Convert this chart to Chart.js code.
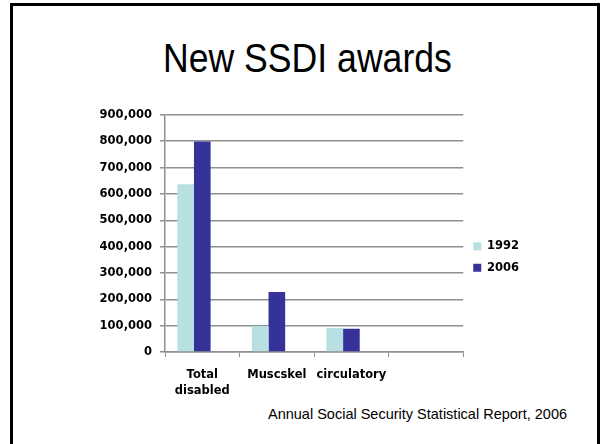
<!DOCTYPE html>
<html>
<head>
<meta charset="utf-8">
<script src="https://cdn.jsdelivr.net/npm/chart.js@4"></script>
<style>
  html, body { margin: 0; padding: 0; background: #fff; }
  #slide { position: relative; width: 600px; height: 444px; overflow: hidden; }
  #frame { position: absolute; left: 10px; top: 3px; width: 584px; height: 460px;
           border: 3px solid #000; border-bottom: none; }
  #title { position: absolute; left: 163px; top: 36px; white-space: nowrap;
           transform: scaleX(0.89); transform-origin: left top;
           font-family: "Liberation Sans", Arial, sans-serif; font-size: 40px; color: #000; }
  #note { position: absolute; left: 268px; top: 406px;
          font-family: "Liberation Sans", Arial, sans-serif; font-size: 14.5px; color: #000; }
  #wrap { position: absolute; left: 0; top: 100px; width: 600px; height: 300px; }
</style>
</head>
<body>
<div id="slide">
  <div id="frame"></div>
  <div id="title">New SSDI awards</div>
  <div id="wrap"><canvas id="chart"></canvas></div>
  <div id="note">Annual Social Security Statistical Report, 2006</div>
</div>
<script>
const categories = [['Total', 'disabled'], 'Muscskel', 'circulatory', '']
const series1992 = [637000, 99000, 91000, null]
const series2006 = [799000, 228000, 88000, null]
// the source sheet had an empty third series; it keeps its slot in each group
const seriesEmpty = [null, null, null, null]

const axisFont = { family: 'DejaVu Sans', weight: 'bold', size: 11.5 }

const ctx = document.getElementById('chart').getContext('2d')
new Chart(ctx, {
  type: 'bar',
  data: {
    labels: categories,
    datasets: [
      { label: '1992', data: series1992, backgroundColor: '#B8E0E2' },
      { label: '2006', data: series2006, backgroundColor: '#35339A' },
      { label: '', data: seriesEmpty, backgroundColor: 'transparent' }
    ]
  },
  options: {
    responsive: true,
    maintainAspectRatio: false,
    animation: false,
    layout: { padding: { top: 14, right: 71, left: 0, bottom: 0 } },
    datasets: { bar: { categoryPercentage: 0.67, barPercentage: 1 } },
    plugins: {
      legend: {
        position: 'right',
        labels: { boxWidth: 8, boxHeight: 8, padding: 10, color: '#000', font: axisFont,
                  filter: item => item.text !== '' }
      },
      tooltip: { enabled: false }
    },
    scales: {
      x: {
        grid: { drawOnChartArea: false, drawTicks: true, tickLength: 5, color: '#8f8f8f', offset: true },
        border: { color: '#8f8f8f', width: 1.5 },
        ticks: { color: '#000', font: { ...axisFont, lineHeight: 1.4 }, padding: 10, maxRotation: 0, autoSkip: false },
        afterFit: s => { s.height = 48 }
      },
      y: {
        min: 0, max: 900000,
        grid: { color: '#8f8f8f', lineWidth: 1.5, tickLength: 5 },
        border: { color: '#8f8f8f', width: 1.5 },
        ticks: { stepSize: 100000, color: '#000', font: axisFont, padding: 8,
                 callback: v => v.toLocaleString('en-US') },
        afterFit: s => { s.width = 165 }
      }
    }
  }
})
</script>
</body>
</html>
